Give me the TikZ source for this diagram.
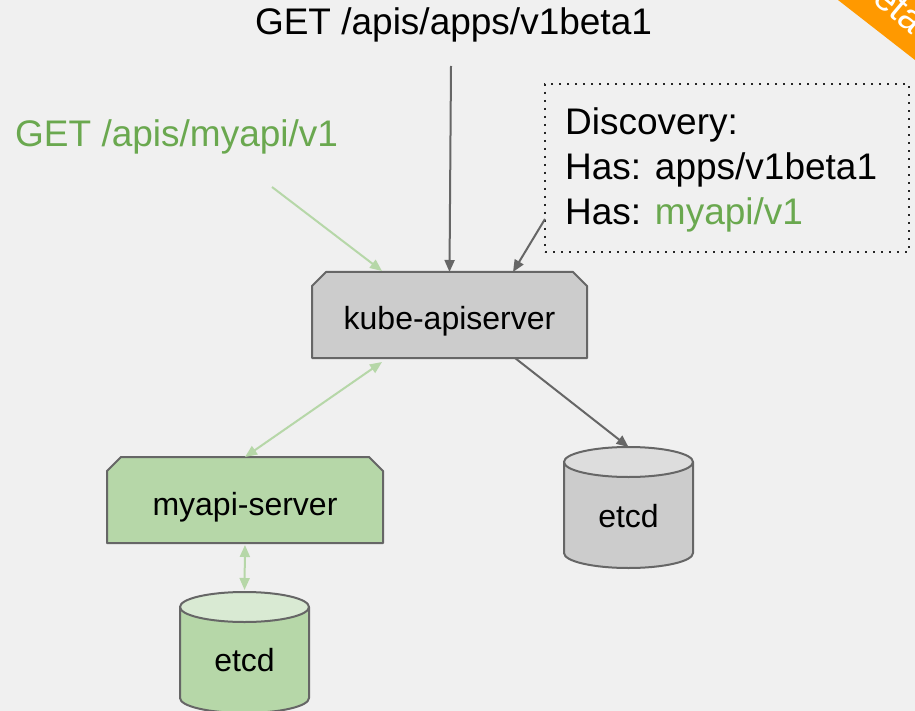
\documentclass[tikz,border=0pt]{standalone}
\usepackage{fontspec}
\setmainfont{Liberation Sans}
\usetikzlibrary{arrows.meta,calc}
\definecolor{bg}{HTML}{F0F0F0}
\definecolor{edge}{HTML}{666666}
\definecolor{greyfill}{HTML}{CCCCCC}
\definecolor{greytop}{HTML}{DDDDDD}
\definecolor{greenfill}{HTML}{B6D7A8}
\definecolor{greentop}{HTML}{D9EAD3}
\definecolor{greentext}{HTML}{6AA84F}
\definecolor{banner}{HTML}{FF9900}
\begin{document}
\begin{tikzpicture}[x=1pt,y=-1pt,
  frame/.style={draw=none, inner sep=0pt, outer sep=0pt},
  bigtext/.style={font=\fontsize{37}{45}\selectfont, inner sep=0pt},
  boxtext/.style={font=\fontsize{32}{38}\selectfont, inner sep=0pt, anchor=base},
  shapeline/.style={draw=edge, line width=2pt, line join=round},
  tip/.tip={Triangle[length=12pt,width=10pt]},
  grayarrow/.style={draw=edge, line width=2pt, -tip},
  greenarrow/.style={draw=greenfill, line width=2pt, -tip},
  greenboth/.style={draw=greenfill, line width=2pt, tip-tip},
]
\clip (0,0) rectangle (915,711);
\fill[bg] (0,0) rectangle (915,711);

% corner ribbon
\fill[banner] (838,0) -- (992,120) -- (1000,-20) -- (838,-20) -- cycle;
\node[font=\fontsize{38}{40}\selectfont, text=white, rotate=-40, inner sep=0pt] (ribbon) at (890,0) {Beta};

% request labels
\node[bigtext, anchor=base] (getapps) at (453.5,35) {GET /apis/apps/v1beta1};
\node[bigtext, anchor=base west, text=greentext] (getmy) at (15,147) {GET /apis/myapi/v1};
\coordinate (topin) at (451,66);
\coordinate (myin) at (272,187);

% discovery box
\node[frame, draw=black!85, dash pattern=on 2pt off 6pt, line width=2pt,
      minimum width=364pt, minimum height=168pt] (disc) at (727,168) {};
\node[bigtext, anchor=base west] (disc1) at (565,135) {Discovery:};
\node[bigtext, anchor=base west] (disc2) at (565,180) {Has: apps/v1beta1};
\node[bigtext, anchor=base west] (disc3) at (565,225) {Has: \textcolor{greentext}{myapi/v1}};

% kube-apiserver
\node[frame, minimum width=275pt, minimum height=86pt] (kube) at (449.5,315) {};
\path[shapeline, fill=greyfill] (kube.south west) -- ($(kube.north west)+(0,14)$)
  -- ($(kube.north west)+(14,0)$) -- ($(kube.north east)+(-14,0)$)
  -- ($(kube.north east)+(0,14)$) -- (kube.south east) -- cycle;
\node[boxtext] (kubetext) at ($(kube.south)+(0,-29)$) {kube-apiserver};

% myapi-server
\node[frame, minimum width=276pt, minimum height=86pt] (myapi) at (245,500) {};
\path[shapeline, fill=greenfill] (myapi.south west) -- ($(myapi.north west)+(0,14)$)
  -- ($(myapi.north west)+(14,0)$) -- ($(myapi.north east)+(-14,0)$)
  -- ($(myapi.north east)+(0,14)$) -- (myapi.south east) -- cycle;
\node[boxtext] (myapitext) at ($(myapi.south)+(0,-28)$) {myapi-server};

% etcd of kube-apiserver
\node[frame, minimum width=129pt, minimum height=121pt] (etcdR) at (628.5,507.5) {};
\path[shapeline, fill=greyfill] ($(etcdR.north west)+(0,15)$) -- ($(etcdR.south west)+(0,-15)$)
  arc[start angle=180, end angle=360, x radius=64.5pt, y radius=15pt]
  -- ($(etcdR.north east)+(0,15)$) -- cycle;
\path[shapeline, fill=greytop] ($(etcdR.north)+(0,15)$) ellipse[x radius=64.5pt, y radius=15pt];
\node[boxtext] (etcdRtext) at ($(etcdR.south)+(0,-41)$) {etcd};

% etcd of myapi-server
\node[frame, minimum width=129pt, minimum height=121pt] (etcdL) at (244.5,652.5) {};
\path[shapeline, fill=greenfill] ($(etcdL.north west)+(0,15)$) -- ($(etcdL.south west)+(0,-15)$)
  arc[start angle=180, end angle=360, x radius=64.5pt, y radius=15pt]
  -- ($(etcdL.north east)+(0,15)$) -- cycle;
\path[shapeline, fill=greentop] ($(etcdL.north)+(0,15)$) ellipse[x radius=64.5pt, y radius=15pt];
\node[boxtext] (etcdLtext) at ($(etcdL.south)+(0,-42)$) {etcd};

% connectors
\draw[grayarrow] (topin) -- (kube.north);
\draw[grayarrow] ($(disc.south west)+(0,-33)$) -- ($(kube.north west)+(201,0)$);
\draw[greenarrow] (myin) -- ($(kube.north west)+(70,-1)$);
\draw[greenboth] (myapi.north) -- ($(kube.south west)+(70,4)$);
\draw[grayarrow] ($(kube.south west)+(203,0)$) -- (etcdR.north);
\draw[greenboth, shorten <=2pt, shorten >=2pt] (myapi.south) -- (etcdL.north);
\end{tikzpicture}
\end{document}
